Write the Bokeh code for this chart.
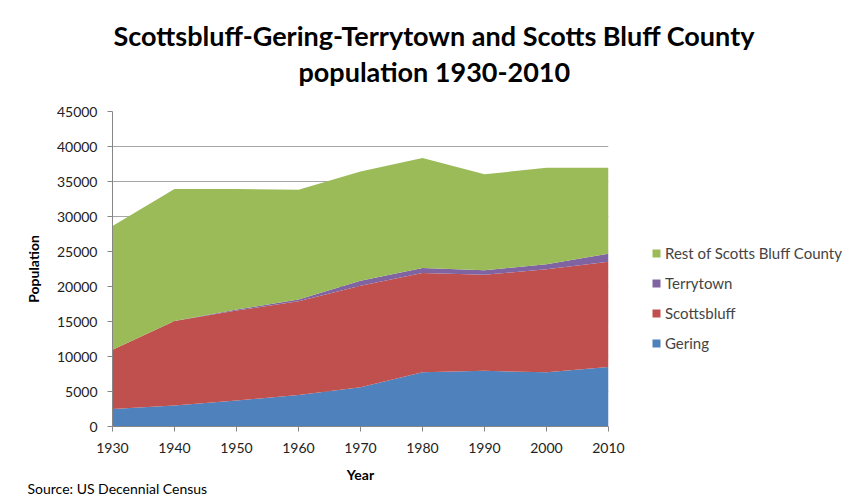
from bokeh.plotting import figure
from bokeh.models import Legend, LegendItem, Title, FixedTicker, Range1d
from bokeh.embed import file_html
from bokeh.resources import INLINE
import pandas as pd

years = [1930, 1940, 1950, 1960, 1970, 1980, 1990, 2000, 2010]
gering = [2500, 3000, 3700, 4500, 5600, 7760, 7950, 7750, 8500]
scottsbluff = [8465, 12057, 12858, 13377, 14507, 14156, 13711, 14732, 15039]
terrytown = [0, 0, 150, 250, 700, 720, 650, 700, 1150]
rest = [17679, 18860, 17231, 15682, 15625, 15708, 13714, 13769, 12281]

series = ["Gering", "Scottsbluff", "Terrytown", "Rest of Scotts Bluff County"]
colors = ["#4F81BD", "#C0504D", "#8064A2", "#9BBB59"]
y_ticks = list(range(0, 45001, 5000))

df = pd.DataFrame({"year": years, "Gering": gering, "Scottsbluff": scottsbluff,
                   "Terrytown": terrytown, "Rest of Scotts Bluff County": rest})

FONT = "Lato"

p = figure(frame_width=496, frame_height=315, output_backend="svg", toolbar_location=None,
           x_range=Range1d(1930, 2010), y_range=Range1d(0, 45000),
           min_border_left=112, min_border_right=254, min_border_top=111, min_border_bottom=75)

renderers = p.varea_stack(stackers=series, x="year", color=colors, source=df)

p.xgrid.visible = False
p.ygrid.grid_line_color = "#A6A6A6"
p.ygrid.grid_line_width = 1
p.outline_line_color = None

p.yaxis.ticker = FixedTicker(ticks=y_ticks)
p.xaxis.ticker = FixedTicker(ticks=years)
for ax in (p.xaxis, p.yaxis):
    ax.axis_line_color = "#868686"
    ax.major_tick_line_color = "#868686"
    ax.major_tick_in = 0
    ax.major_tick_out = 5
    ax.minor_tick_line_color = None
    ax.major_label_text_font = FONT
    ax.major_label_text_font_size = "14px"
    ax.major_label_text_color = "#222222"
    ax.axis_label_text_font = FONT
    ax.axis_label_text_font_size = "14px"
    ax.axis_label_text_font_style = "bold"
    ax.axis_label_text_color = "#000000"

p.xaxis.axis_label = "Year"
p.yaxis.axis_label = "Population"
p.xaxis.major_label_standoff = 11
p.yaxis.major_label_standoff = 10
p.xaxis.axis_label_standoff = 10
p.yaxis.axis_label_standoff = 12

items = [LegendItem(label=s, renderers=[r]) for s, r in zip(series, renderers)][::-1]
legend = Legend(items=items, location=(43, 73), padding=0, margin=0,
                border_line_color=None, background_fill_alpha=0,
                label_text_font=FONT, label_text_font_size="15px",
                glyph_width=10, glyph_height=10, label_height=20,
                spacing=10, label_standoff=4)
p.add_layout(legend, "right")

p.title = None
spacer = Title(text=" ", text_font=FONT, text_font_size="10px", standoff=10)
t2 = Title(text="population 1930-2010", align="left", offset=186,
           text_font=FONT, text_font_size="27px", text_font_style="bold",
           text_color="#000000", standoff=0)
t1 = Title(text="Scottsbluff-Gering-Terrytown and Scotts Bluff County", align="left", offset=1,
           text_font=FONT, text_font_size="27px", text_font_style="bold",
           text_color="#000000", standoff=2)
p.add_layout(spacer, "above")
p.add_layout(t2, "above")
p.add_layout(t1, "above")

src = Title(text="Source: US Decennial Census", align="left", offset=-85,
            text_font=FONT, text_font_size="14px", text_font_style="normal",
            text_color="#000000", standoff=-15)
p.add_layout(src, "below")

open("out.html", "w").write(file_html(p, INLINE))
